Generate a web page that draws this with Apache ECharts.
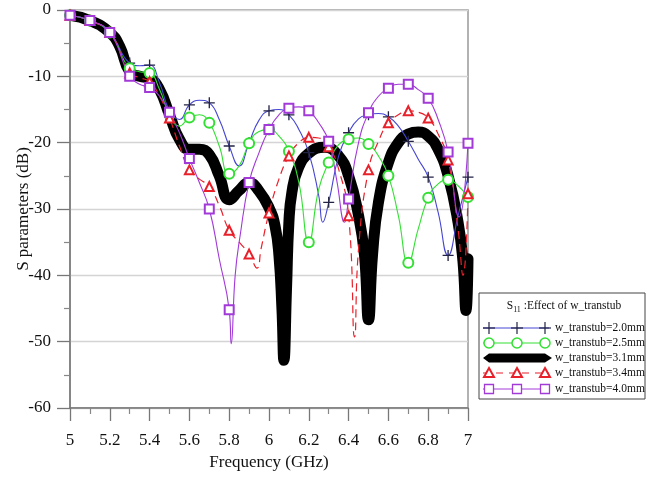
<!DOCTYPE html>
<html><head><meta charset="utf-8">
<script src="https://cdn.jsdelivr.net/npm/echarts@6/dist/echarts.min.js"></script>
<style>html,body{margin:0;padding:0;background:#fff}#c{width:655px;height:484px}</style>
</head><body><div id="c"></div>
<script>
// ---- data (frequency GHz, S11 dB) ----
const xTickLabels = ['5','5.2','5.4','5.6','5.8','6','6.2','6.4','6.6','6.8','7'];
const yTickLabels = ['0','-10','-20','-30','-40','-50','-60'];
const seriesNames = ['w_transtub=2.0mm','w_transtub=2.5mm','w_transtub=3.1mm','w_transtub=3.4mm','w_transtub=4.0mm'];

const w20 = [[5.0,-0.8],[5.1,-1.6],[5.2,-3.4],[5.3,-8.0],[5.35,-8.4],[5.4,-8.3],[5.45,-11],[5.5,-15.2],[5.55,-16.5],[5.6,-14.3],[5.65,-13.6],[5.7,-14.0],[5.75,-16.5],[5.8,-20.5],[5.85,-23.5],[5.9,-20.0],[5.95,-16.6],[6.0,-15.2],[6.05,-15.0],[6.1,-15.8],[6.15,-18],[6.2,-21.5],[6.25,-28],[6.27,-32],[6.3,-29],[6.35,-22],[6.4,-18.5],[6.45,-16.4],[6.5,-15.8],[6.55,-15.6],[6.6,-16.1],[6.65,-17.5],[6.7,-19.8],[6.75,-22.5],[6.8,-25.2],[6.85,-30.5],[6.9,-37],[6.95,-31],[7.0,-25.2]];
const w25 = [[5.0,-0.8],[5.1,-1.6],[5.2,-3.4],[5.3,-8.8],[5.35,-9.3],[5.4,-9.5],[5.45,-12],[5.5,-15.8],[5.55,-17.5],[5.6,-16.2],[5.65,-15.8],[5.7,-17.0],[5.75,-20.5],[5.8,-24.7],[5.85,-23.5],[5.9,-20.1],[5.95,-18.3],[6.0,-18.0],[6.05,-19],[6.1,-21.3],[6.15,-26],[6.2,-35],[6.25,-27],[6.3,-23],[6.35,-20.3],[6.4,-19.5],[6.45,-19.3],[6.5,-20.2],[6.55,-22],[6.6,-25],[6.65,-31],[6.7,-38.1],[6.75,-33],[6.8,-28.3],[6.85,-26.2],[6.9,-25.6],[6.95,-26.5],[7.0,-28.2]];
const w31 = [[5.0,-0.8],[5.1,-1.6],[5.2,-3.4],[5.25,-5.5],[5.3,-9.3],[5.35,-10.0],[5.4,-10.3],[5.45,-12],[5.5,-15.8],[5.55,-19.5],[5.6,-21.0],[5.65,-21.0],[5.7,-21.8],[5.75,-25],[5.8,-28.6],[5.85,-27.2],[5.9,-26.0],[5.95,-27.3],[6.0,-29.8],[6.03,-32.5],[6.05,-37],[6.065,-45],[6.075,-52.8],[6.088,-42],[6.1,-32],[6.115,-27.5],[6.145,-24],[6.2,-21.6],[6.28,-20.7],[6.35,-22],[6.4,-25],[6.45,-31],[6.48,-37],[6.5,-46.7],[6.52,-37],[6.55,-29],[6.6,-23],[6.65,-20],[6.7,-18.7],[6.75,-18.4],[6.8,-19],[6.85,-21],[6.9,-25],[6.95,-32],[6.975,-38],[6.99,-45.3],[7.0,-37.5]];
const w34 = [[5.0,-0.8],[5.1,-1.6],[5.2,-3.4],[5.3,-9.5],[5.35,-10.2],[5.4,-10.8],[5.45,-13],[5.5,-16.3],[5.55,-20.5],[5.6,-24.1],[5.65,-25.5],[5.7,-26.6],[5.75,-29.5],[5.8,-33.2],[5.85,-35],[5.9,-36.8],[5.94,-38.9],[5.96,-36],[6.0,-30.6],[6.05,-25.5],[6.1,-22],[6.15,-20],[6.2,-19.2],[6.25,-19.3],[6.3,-20.6],[6.35,-24],[6.4,-31],[6.43,-49.3],[6.45,-36],[6.5,-24.1],[6.55,-19.8],[6.6,-17],[6.65,-15.8],[6.7,-15.2],[6.75,-15.4],[6.8,-16.3],[6.85,-18.7],[6.9,-22.6],[6.95,-33],[6.975,-40],[7.0,-27.7]];
const w40 = [[5.0,-0.8],[5.1,-1.6],[5.2,-3.4],[5.3,-10.0],[5.35,-11.2],[5.4,-11.7],[5.45,-13],[5.5,-15.4],[5.55,-18.5],[5.6,-22.4],[5.65,-26],[5.7,-30],[5.75,-37.5],[5.8,-45.2],[5.81,-50.3],[5.83,-40],[5.855,-34],[5.9,-26],[5.95,-21.5],[6.0,-18],[6.05,-15.8],[6.1,-14.8],[6.15,-14.6],[6.2,-15.2],[6.25,-17],[6.3,-19.8],[6.34,-25.6],[6.38,-32],[6.4,-28.5],[6.45,-20],[6.5,-15.5],[6.55,-13],[6.6,-11.8],[6.65,-11.2],[6.7,-11.2],[6.75,-12],[6.8,-13.3],[6.85,-16.5],[6.9,-21.4],[6.955,-31.2],[7.0,-20.1]];

const FONT = 'Liberation Serif';
const C_BLUE = '#4646d2', C_PLUS = '#222244', C_GREEN = '#33e033', C_RED = '#e8202a', C_PURPLE = '#a23ad8';
const PLUS = 'path://M4.4,0H5.6V10H4.4Z M0,4.4H10V5.6H0Z';
const SMOOTH = 0.5;

function isMarker(x){ return Math.abs(x*10 - Math.round(x*10)) < 1e-6; }
function items(arr){ return arr.map(p => isMarker(p[0]) ? {value:p} : {value:p, symbol:'none'}); }

function thin(name, data, color, symbol, size, symColor, extra){
  return Object.assign({
    name, type:'line', data: items(data), smooth:SMOOTH,
    symbol, symbolSize:size, showSymbol:true,
    lineStyle:{color, width:1.1},
    itemStyle:{color:symColor, borderColor:symColor, borderWidth:1.5},
    emphasis:{disabled:true}, z:3
  }, extra||{});
}

const chart = echarts.init(document.getElementById('c'), null, {renderer:'canvas'});
const series = [
  {name:seriesNames[2], type:'line', data:w31, smooth:SMOOTH, symbol:'none',
   lineStyle:{color:'#000', width:11, cap:'round', join:'round'}, emphasis:{disabled:true}, z:2, clip:false},
  thin(seriesNames[0], w20, C_BLUE, PLUS, 11, C_PLUS, {itemStyle:{color:C_PLUS, borderWidth:0}}),
  thin(seriesNames[1], w25, C_GREEN, 'emptyCircle', 10, C_GREEN),
  thin(seriesNames[3], w34, C_RED, 'emptyTriangle', 9, C_RED, {lineStyle:{color:C_RED, width:1.2, type:[8,5]}, itemStyle:{color:C_RED, borderColor:C_RED, borderWidth:2}}),
  thin(seriesNames[4], w40, C_PURPLE, 'emptyRect', 9, C_PURPLE)
];

// legend drawn as graphic
const LX = 479, LY = 293, LW = 166, LH = 106;
const rowY = [328, 343, 358, 373, 389];
const mx = [489, 517, 545];
const LFS = 11.5;
const g = [];
g.push({type:'rect', shape:{x:LX, y:LY, width:LW, height:LH}, style:{fill:'#fff', stroke:'#444', lineWidth:1}, z:10});
g.push({type:'text', x:564, y:306, style:{
  text:'S{sub|11} :Effect of w_transtub', rich:{sub:{fontSize:8, padding:[7,0,0,0], fontFamily:FONT}},
  fontFamily:FONT, fontSize:LFS, fill:'#111', align:'center', verticalAlign:'middle'}, z:11});
seriesNames.forEach((n,i)=>{
  g.push({type:'text', x:555, y:rowY[i], style:{text:n, fontFamily:FONT, fontSize:LFS, fill:'#111', verticalAlign:'middle'}, z:11});
});
// row 0 blue +
g.push({type:'line', shape:{x1:483,y1:rowY[0],x2:549,y2:rowY[0]}, style:{stroke:C_BLUE, lineWidth:1}, z:11});
mx.forEach(x=>{
  g.push({type:'line', shape:{x1:x-6,y1:rowY[0],x2:x+6,y2:rowY[0]}, style:{stroke:C_PLUS, lineWidth:1.2}, z:12});
  g.push({type:'line', shape:{x1:x,y1:rowY[0]-6,x2:x,y2:rowY[0]+6}, style:{stroke:C_PLUS, lineWidth:1.2}, z:12});
});
// row 1 green circles
g.push({type:'line', shape:{x1:483,y1:rowY[1],x2:549,y2:rowY[1]}, style:{stroke:C_GREEN, lineWidth:1}, z:11});
mx.forEach(x=>g.push({type:'circle', shape:{cx:x, cy:rowY[1], r:5}, style:{fill:'#fff', stroke:C_GREEN, lineWidth:1.5}, z:12}));
// row 2 thick black
g.push({type:'polygon', shape:{points:[[483,rowY[2]],[489,rowY[2]-4.5],[545,rowY[2]-4.5],[552,rowY[2]],[545,rowY[2]+4.5],[489,rowY[2]+4.5]]}, style:{fill:'#000'}, z:11});
// row 3 red triangles dashed
g.push({type:'line', shape:{x1:483,y1:rowY[3],x2:549,y2:rowY[3]}, style:{stroke:C_RED, lineWidth:1.2, lineDash:[7,6]}, z:11});
mx.forEach(x=>g.push({type:'polygon', shape:{points:[[x,rowY[3]-5],[x+5,rowY[3]+4],[x-5,rowY[3]+4]]}, style:{fill:'#fff', stroke:C_RED, lineWidth:2}, z:12}));
// row 4 purple squares
g.push({type:'line', shape:{x1:483,y1:rowY[4],x2:549,y2:rowY[4]}, style:{stroke:C_PURPLE, lineWidth:1}, z:11});
mx.forEach(x=>g.push({type:'rect', shape:{x:x-4.5, y:rowY[4]-4.5, width:9, height:9}, style:{fill:'#fff', stroke:C_PURPLE, lineWidth:1.3}, z:12}));

const axisCommon = {
  axisLine:{show:true, onZero:false, lineStyle:{color:'#777', width:1.5}},
  axisTick:{show:true, inside:false, length:13, lineStyle:{color:'#777', width:1.3}},
  minorTick:{show:true, splitNumber:2, length:6, lineStyle:{color:'#888', width:1.2}},
  nameTextStyle:{fontFamily:FONT, fontSize:17, color:'#111'},
  nameMoveOverlap:false
};
chart.setOption({
  animation:false,
  backgroundColor:'#fff',
  grid:{left:70, right:187, top:10, bottom:76, containLabel:false, outerBoundsMode:'none',
        show:true, borderColor:'#999', borderWidth:1.5, backgroundColor:'transparent'},
  xAxis:Object.assign({type:'value', min:5, max:7, interval:0.2,
    name:'Frequency (GHz)', nameLocation:'middle', nameGap:46,
    splitLine:{show:false},
    axisLabel:{margin:24, fontFamily:FONT, fontSize:17, color:'#111',
      formatter:(v)=>{ const s = xTickLabels.find(t=>Math.abs(parseFloat(t)-v)<1e-6); return s===undefined?'':s; }}
  }, axisCommon),
  yAxis:Object.assign({type:'value', min:-60, max:0, interval:10,
    name:'S parameters (dB)', nameLocation:'middle', nameGap:38,
    splitLine:{show:true, lineStyle:{color:'#d4d4d4', width:1.3}},
    axisLabel:{margin:19, fontFamily:FONT, fontSize:17, color:'#111',
      formatter:(v)=>{ const s = yTickLabels.find(t=>Math.abs(parseFloat(t)-v)<1e-6); return s===undefined?'':s; }}
  }, axisCommon),
  series,
  graphic:g
});
</script></body></html>
